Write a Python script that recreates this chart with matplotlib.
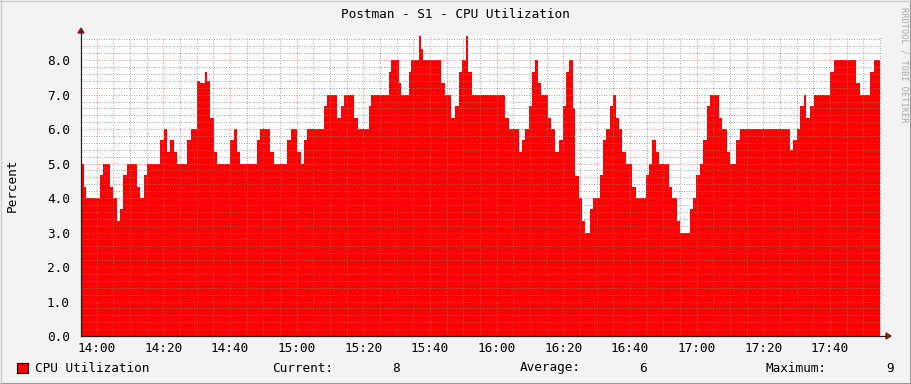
import numpy as np
import matplotlib.pyplot as plt
from matplotlib.ticker import MultipleLocator, FuncFormatter
from matplotlib.lines import Line2D
from matplotlib.patches import Polygon

# CPU utilization, step starts in minutes after 14:00 and step values (%)
step_start = [-4.8, -3.8, -3.1, 0.9, 1.9, 4.1, 4.9, 6.1, 6.9, 7.9, 9.1, 12.2, 13.1, 14.1, 15.1,
              19.1, 20.1, 21.1, 22.1, 23.1, 24.1, 27.2, 28.2, 30.2, 31.0, 32.4, 33.1, 34.1, 35.1,
              36.1, 40.1, 41.1, 42.1, 43.1, 48.1, 49.1, 52.1, 53.1, 57.2, 58.4, 60.2, 61.2, 62.2,
              63.2, 68.2, 69.2, 72.2, 73.2, 74.2, 77.2, 78.4, 81.6, 82.4, 87.6, 88.4, 90.6, 91.4,
              93.6, 94.4, 96.6, 97.2, 98.0, 103.4, 104.6, 106.4, 107.6, 108.8, 109.6, 110.8, 111.4,
              112.6, 122.6, 123.6, 126.6, 127.6, 128.6, 129.6, 130.6, 131.6, 132.4, 133.4, 135.4,
              136.4, 137.6, 138.6, 140.0, 140.8, 141.6, 142.8, 143.6, 144.6, 145.6, 146.6, 147.9,
              148.9, 150.9, 151.9, 152.9, 154.1, 154.9, 155.7, 156.7, 157.7, 158.7, 160.7, 161.7,
              164.7, 165.7, 166.7, 167.7, 168.7, 171.7, 172.7, 174.2, 175.1, 177.9, 178.9, 179.9,
              180.9, 181.9, 183.1, 183.9, 186.7, 187.7, 189.1, 189.9, 191.9, 192.9, 207.9, 208.9,
              210.1, 210.9, 212.1, 212.9, 213.9, 215.1, 220.1, 221.1, 227.9, 229.1, 232.1, 233.1]
data_end = 235.0
cpu = [5.0, 4.33, 4.0, 4.67, 5.0, 4.33, 4.0, 3.33, 3.67, 4.67, 5.0, 4.33, 4.0, 4.67, 5.0,
       5.67, 6.0, 5.33, 5.67, 5.33, 5.0, 5.67, 6.0, 7.4, 7.33, 7.67, 7.4, 6.33, 5.33,
       5.0, 5.67, 6.0, 5.33, 5.0, 5.67, 6.0, 5.33, 5.0, 5.67, 6.0, 5.33, 5.0, 5.67,
       6.0, 6.67, 7.0, 6.33, 6.67, 7.0, 6.33, 6.0, 6.67, 7.0, 7.67, 8.0, 7.33, 7.0,
       7.67, 8.0, 8.7, 8.33, 8.0, 7.33, 7.0, 6.33, 6.67, 7.67, 8.0, 8.7, 7.67,
       7.0, 6.33, 6.0, 5.33, 5.67, 6.0, 6.67, 7.67, 8.0, 7.33, 7.0, 6.33,
       6.0, 5.33, 5.67, 6.67, 7.67, 8.0, 6.6, 4.65, 4.0, 3.33, 3.0, 3.67,
       4.0, 4.67, 5.67, 6.0, 6.67, 7.0, 6.33, 6.0, 5.33, 5.0, 4.33, 4.0,
       4.67, 5.0, 5.67, 5.33, 5.0, 4.33, 4.0, 3.33, 3.0, 3.67, 4.0, 4.67,
       5.0, 5.67, 6.67, 7.0, 6.33, 6.0, 5.33, 5.0, 5.67, 6.0, 5.4, 5.67,
       6.0, 6.67, 7.0, 6.33, 6.67, 7.0, 7.67, 8.0, 7.33, 7.0, 7.67, 8.0]
x_start, x_end = -4.7, 235.3

W, H = 911, 384
fig = plt.figure(figsize=(W / 100, H / 100), dpi=100, facecolor='#f3f3f3')
ax = fig.add_axes([81 / W, (H - 336) / H, 800 / W, 300 / H])
ax.set_facecolor('white')

edges = step_start + [data_end]
ax.stairs(cpu, edges, fill=True, color='#ff0000', linewidth=0, zorder=1)

ax.set_xlim(x_start, x_end)
ax.set_ylim(0, 8.7)

mono = 'DejaVu Sans Mono'
fs = 9.2
ax.xaxis.set_major_locator(MultipleLocator(20))
ax.xaxis.set_minor_locator(MultipleLocator(5))
ax.yaxis.set_major_locator(MultipleLocator(1))
ax.yaxis.set_minor_locator(MultipleLocator(0.2))
ax.xaxis.set_major_formatter(FuncFormatter(lambda v, p: '%d:%02d' % (14 + int(v) // 60, int(v) % 60)))
ax.yaxis.set_major_formatter(FuncFormatter(lambda v, p: '%.1f' % v))
ax.tick_params(which='both', length=0)
ax.tick_params(axis='x', pad=4)
ax.tick_params(axis='y', pad=8)
for lab in ax.get_xticklabels() + ax.get_yticklabels():
    lab.set_fontfamily(mono)
    lab.set_fontsize(fs)

dots = (0, (1, 2))
ax.set_axisbelow(False)
ax.grid(True, which='minor', color=(0.5, 0.5, 0.5, 0.2), linestyle=dots, linewidth=0.6)
ax.grid(True, which='major', color=(0.88, 0.4, 0.4, 0.45), linestyle=dots, linewidth=0.6)

for s in ax.spines.values():
    s.set_visible(False)

# axis lines with arrow heads, RRD style
def px(x, y):
    return (x / W, 1 - y / H)

fig.add_artist(Line2D([81 / W, 886 / W], [1 - 336 / H] * 2, color='#202020', lw=0.9))
fig.add_artist(Line2D([81 / W] * 2, [1 - 336 / H, 1 - 30 / H], color='#202020', lw=0.9))
fig.add_artist(Polygon([px(886, 333), px(891, 336), px(886, 339)], closed=True, color='#7f1f1f'))
fig.add_artist(Polygon([px(78, 33), px(81, 28), px(84, 33)], closed=True, color='#7f1f1f'))

fig.text(*px(455, 14), 'Postman - S1 - CPU Utilization', ha='center', va='center',
         family=mono, fontsize=fs)
fig.text(*px(12, 185), 'Percent', ha='center', va='center', rotation=90,
         family=mono, fontsize=fs)
fig.text(*px(904, 65), 'RRDTOOL / TOBI OETIKER', ha='center', va='center', rotation=270,
         family=mono, fontsize=6.2, color='#a8a8a8')

# legend line
fig.add_artist(Polygon([px(17, 363), px(28, 363), px(28, 373), px(17, 373)], closed=True,
                       facecolor='#ff0000', edgecolor='black', linewidth=0.8))
widths = np.diff(edges)
current = cpu[-1]
average = np.sum(np.array(cpu) * widths) / np.sum(widths)
maximum = max(cpu)
ly = 368
fig.text(*px(35, ly), 'CPU Utilization', ha='left', va='center', family=mono, fontsize=fs)
fig.text(*px(272, ly), 'Current:', ha='left', va='center', family=mono, fontsize=fs)
fig.text(*px(400, ly), '%.0f' % current, ha='right', va='center', family=mono, fontsize=fs)
fig.text(*px(520, ly), 'Average:', ha='left', va='center', family=mono, fontsize=fs)
fig.text(*px(647, ly), '%.0f' % average, ha='right', va='center', family=mono, fontsize=fs)
fig.text(*px(766, ly), 'Maximum:', ha='left', va='center', family=mono, fontsize=fs)
fig.text(*px(894, ly), '%.0f' % maximum, ha='right', va='center', family=mono, fontsize=fs)

# image frame shading
fig.add_artist(Line2D([0, 1], [0.5 / H, 0.5 / H], color='#999999', lw=1.5))
fig.add_artist(Line2D([1 - 0.5 / W] * 2, [0, 1], color='#999999', lw=1.5))
fig.add_artist(Line2D([0, 1], [1 - 0.5 / H] * 2, color='#cbcbcb', lw=1.0))
fig.add_artist(Line2D([0.5 / W] * 2, [0, 1], color='#cbcbcb', lw=1.0))

fig.savefig('out.png', dpi=100, facecolor=fig.get_facecolor())
